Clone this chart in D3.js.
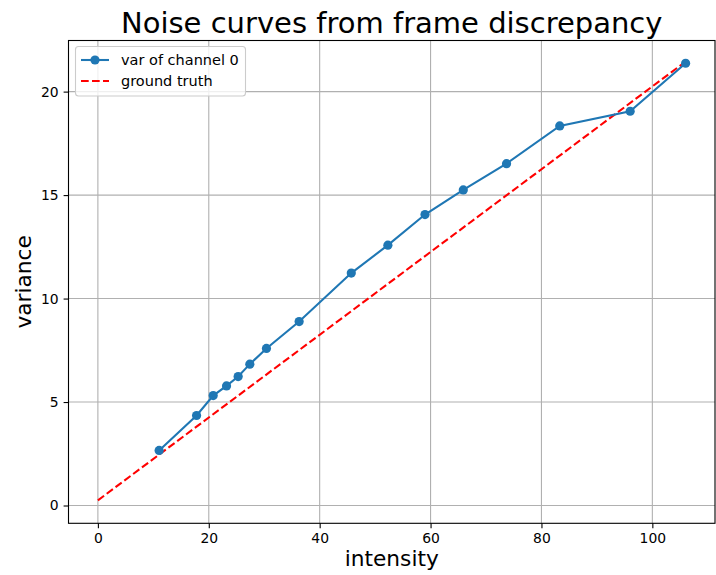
<!DOCTYPE html>
<html><head><meta charset="utf-8">
<script src="https://cdn.jsdelivr.net/npm/d3@7"></script>
<style>body{margin:0;background:#fff;} text{font-family:"DejaVu Sans",sans-serif;}</style>
</head><body>
<svg id="c" width="716" height="575"></svg>
<script>
const intensity = [11.05, 17.8, 20.8, 23.2, 25.3, 27.4, 30.4, 36.3, 45.7, 52.3, 59.0, 65.9, 73.7, 83.3, 96.0, 106.0];
const variance  = [2.66, 4.35, 5.31, 5.78, 6.23, 6.83, 7.59, 8.89, 11.23, 12.58, 14.06, 15.25, 16.52, 18.34, 19.05, 21.37];
const truthX = [0, 106];
const truthY = [0.25, 21.45];
const xTicks = [0, 20, 40, 60, 80, 100];
const yTicks = [0, 5, 10, 15, 20];
const seriesNames = ["var of channel 0", "ground truth"];

const svg = d3.select("#c");
const L = 68.5, R = 715, T = 40.5, B = 523.3;
const x = d3.scaleLinear().domain([-5.3, 111.3]).range([L, R]);
const y = d3.scaleLinear().domain([-0.86, 22.47]).range([B, T]);

// grid
const g = svg.append("g");
g.selectAll(".gx").data(xTicks).enter().append("line")
  .attr("x1", d => x(d)).attr("x2", d => x(d)).attr("y1", T).attr("y2", B)
  .attr("stroke", "#b0b0b0").attr("stroke-width", 1.1);
g.selectAll(".gy").data(yTicks).enter().append("line")
  .attr("y1", d => y(d)).attr("y2", d => y(d)).attr("x1", L).attr("x2", R)
  .attr("stroke", "#b0b0b0").attr("stroke-width", 1.1);

// axes
const xAxis = d3.axisBottom(x).tickValues(xTicks).tickSize(4.9).tickPadding(4.9);
const yAxis = d3.axisLeft(y).tickValues(yTicks).tickSize(4.9).tickPadding(4.9);
const ax = svg.append("g").attr("transform", `translate(0,${B})`).call(xAxis);
const ay = svg.append("g").attr("transform", `translate(${L},0)`).call(yAxis);
[ax, ay].forEach(a => {
  a.select(".domain").remove();
  a.selectAll("line").attr("stroke", "#000").attr("stroke-width", 1.1);
  a.selectAll("text").attr("fill", "#000").style("font-size", "13.9px").style("font-family", "DejaVu Sans");
});

// frame
svg.append("rect").attr("x", L).attr("y", T).attr("width", R - L).attr("height", B - T)
  .attr("fill", "none").attr("stroke", "#000").attr("stroke-width", 1.1);

// ground truth
const truth = truthX.map((d, i) => [d, truthY[i]]);
svg.append("path").datum(truth)
  .attr("d", d3.line().x(d => x(d[0])).y(d => y(d[1])))
  .attr("fill", "none").attr("stroke", "#ff0000").attr("stroke-width", 2.08)
  .attr("stroke-dasharray", "7.7,3.3");

// series
const pts = intensity.map((d, i) => [d, variance[i]]);
svg.append("path").datum(pts)
  .attr("d", d3.line().x(d => x(d[0])).y(d => y(d[1])))
  .attr("fill", "none").attr("stroke", "#1f77b4").attr("stroke-width", 2.08);
svg.selectAll(".pt").data(pts).enter().append("circle")
  .attr("cx", d => x(d[0])).attr("cy", d => y(d[1])).attr("r", 4.6)
  .attr("fill", "#1f77b4");

// title & labels
svg.append("text").attr("x", (L + R) / 2).attr("y", 33).attr("text-anchor", "middle")
  .style("font-size", "29px").attr("fill", "#000").text("Noise curves from frame discrepancy");
svg.append("text").attr("x", (L + R) / 2).attr("y", 566).attr("text-anchor", "middle")
  .style("font-size", "21.7px").attr("fill", "#000").text("intensity");
svg.append("text").attr("transform", `translate(30.5,${(T + B) / 2}) rotate(-90)`).attr("text-anchor", "middle")
  .style("font-size", "21.7px").attr("fill", "#000").text("variance");

// legend
const lg = svg.append("g");
lg.append("rect").attr("x", 75.5).attr("y", 46.5).attr("width", 170).attr("height", 49.5).attr("rx", 3)
  .attr("fill", "#fff").attr("fill-opacity", 0.8).attr("stroke", "#cccccc").attr("stroke-width", 1.1);
lg.append("line").attr("x1", 81).attr("x2", 109).attr("y1", 60).attr("y2", 60)
  .attr("stroke", "#1f77b4").attr("stroke-width", 2.08);
lg.append("circle").attr("cx", 95).attr("cy", 60).attr("r", 4.6).attr("fill", "#1f77b4");
lg.append("line").attr("x1", 81).attr("x2", 109).attr("y1", 81).attr("y2", 81)
  .attr("stroke", "#ff0000").attr("stroke-width", 2.08).attr("stroke-dasharray", "7.7,3.3");
lg.append("text").attr("x", 121).attr("y", 65).style("font-size", "14.5px").attr("fill", "#000").text(seriesNames[0]);
lg.append("text").attr("x", 121).attr("y", 86).style("font-size", "14.5px").attr("fill", "#000").text(seriesNames[1]);
</script>
</body></html>
